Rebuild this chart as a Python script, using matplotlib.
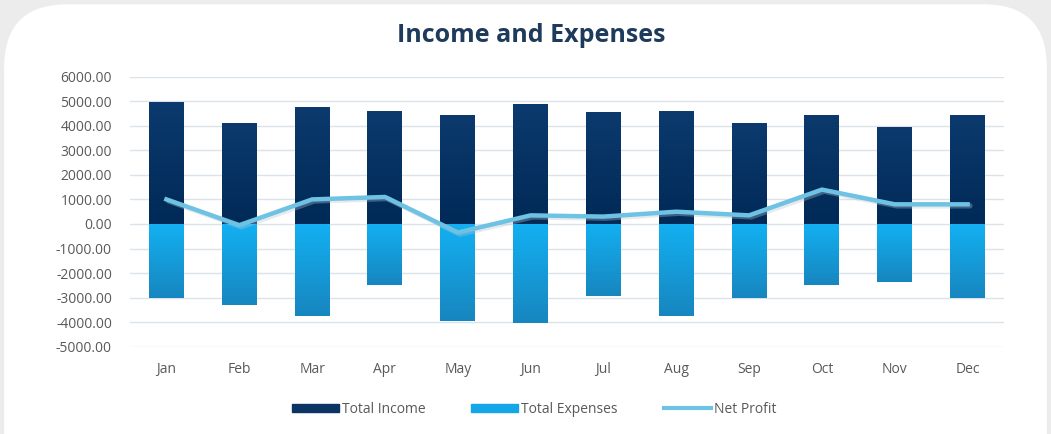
import numpy as np
import matplotlib
matplotlib.use("Agg")
import matplotlib.pyplot as plt
from matplotlib.patches import FancyBboxPatch, Rectangle
from matplotlib.lines import Line2D
from matplotlib.colors import LinearSegmentedColormap

months = ['Jan', 'Feb', 'Mar', 'Apr', 'May', 'Jun', 'Jul', 'Aug', 'Sep', 'Oct', 'Nov', 'Dec']
total_income = [4950, 4100, 4750, 4600, 4450, 4870, 4550, 4600, 4100, 4450, 3950, 4450]
total_expenses = [-3000, -3300, -3750, -2500, -3950, -4050, -2950, -3750, -3000, -2500, -2350, -3000]
net_profit = [1000, -50, 1000, 1100, -350, 350, 300, 500, 350, 1400, 800, 800]
yticks = np.arange(-5000, 6001, 1000)

plt.rcParams['font.family'] = ['Open Sans', 'DejaVu Sans']

fig = plt.figure(figsize=(10.51, 4.34), dpi=100)
fig.patch.set_facecolor('#ececec')
card = FancyBboxPatch((0.004, -0.2), 0.992, 1.19, boxstyle="round,pad=0,rounding_size=0.06",
                      transform=fig.transFigure, facecolor='white', edgecolor='none',
                      mutation_aspect=1051 / 434.0, zorder=-10)
fig.patches.append(card)

ax = fig.add_axes([0.1237, 0.2012, 0.8316, 0.6221])
ax.set_facecolor('none')

inc_cmap = LinearSegmentedColormap.from_list('inc', ['#002a57', '#0c3a6e'])
exp_cmap = LinearSegmentedColormap.from_list('exp', ['#1786bf', '#13b0f2'])

x = np.arange(len(months))
w = 0.48


def grad_bar(xc, val, cmap):
    # vertical gradient clipped to a bar rectangle
    r = Rectangle((xc - w / 2, 0), w, val, facecolor='none', edgecolor='none', zorder=2)
    ax.add_patch(r)
    g = np.linspace(0, 1, 100).reshape(-1, 1)
    lo, hi = min(0, val), max(0, val)
    im = ax.imshow(g, cmap=cmap, aspect='auto', origin='lower',
                   extent=[xc - w / 2, xc + w / 2, lo, hi], zorder=2)
    im.set_clip_path(r)


for i in range(len(months)):
    grad_bar(x[i], total_income[i], inc_cmap)
    grad_bar(x[i], total_expenses[i], exp_cmap)

# soft shadow under the profit line
ax.plot(x + 0.03, np.array(net_profit) - 60, color='#b8c4cc', lw=4, alpha=0.35, zorder=3,
        solid_capstyle='round')
ax.plot(x, net_profit, color='#6ec2e4', lw=3.2, zorder=4, solid_joinstyle='round')

ax.set_xlim(-0.5, len(months) - 0.5)
ax.set_ylim(-5000, 6000)
ax.set_yticks(yticks)
ax.set_yticklabels(['%.2f' % v for v in yticks])
ax.set_xticks(x)
ax.set_xticklabels(months)
ax.tick_params(length=0, colors='#595959', labelsize=10)
ax.tick_params(axis='x', pad=11)
ax.tick_params(axis='y', pad=13)
ax.grid(axis='y', color='#dbe3ea', lw=1)
ax.set_axisbelow(True)
for s in ax.spines.values():
    s.set_visible(False)

fig.text(0.505, 0.918, 'Income and Expenses', ha='center', va='center', fontsize=18,
         fontweight='bold', color='#1f3b5c')

handles = [Rectangle((0, 0), 1, 1, color='#0b3464'),
           Rectangle((0, 0), 1, 1, color='#14a6e6'),
           Line2D([0], [0], color='#6ec2e4', lw=3)]
fig.legend(handles, ['Total Income', 'Total Expenses', 'Net Profit'], loc='center',
           bbox_to_anchor=(0.508, 0.057), ncol=3, frameon=False, fontsize=10,
           labelcolor='#595959', handlelength=3.4, handleheight=0.5, handletextpad=0.2,
           columnspacing=3.3)

fig.savefig('out.png', dpi=100, facecolor=fig.get_facecolor())
